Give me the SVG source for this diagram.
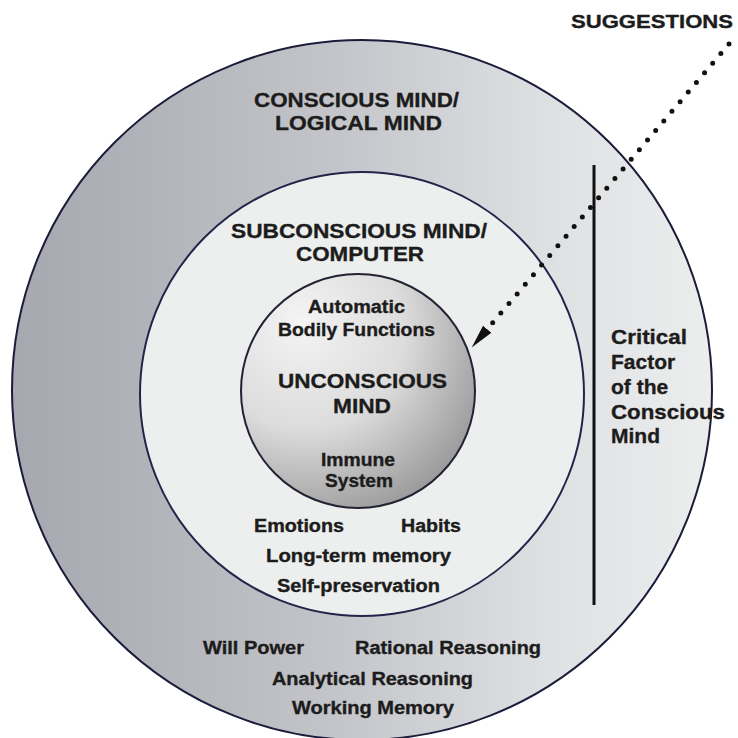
<svg xmlns="http://www.w3.org/2000/svg" width="738" height="738" viewBox="0 0 738 738">
  <style>
    text { font-family: "Liberation Sans", Arial, sans-serif; font-weight: bold; fill: #1c1c1c; stroke: #1c1c1c; stroke-width: 0.35; text-anchor: start; }
    .big { font-size: 21px; }
    .lbl { font-size: 18px; }
    .crit { font-size: 21px; }
    .sugg { font-size: 19px; }
    .ring { stroke-width: 2; }
  </style>
  <defs>
    <linearGradient id="gOuter" x1="0" y1="0" x2="1" y2="0">
      <stop offset="0" stop-color="#a6a7af"/>
      <stop offset="0.45" stop-color="#c3c4c9"/>
      <stop offset="0.78" stop-color="#e0e1e3"/>
      <stop offset="1" stop-color="#eceded"/>
    </linearGradient>
    <radialGradient id="gInner" cx="0.3" cy="0.28" r="0.85" fx="0.25" fy="0.2">
      <stop offset="0" stop-color="#f4f4f4"/>
      <stop offset="0.5" stop-color="#dcdcdc"/>
      <stop offset="1" stop-color="#929292"/>
    </radialGradient>
    <marker id="arrowHead" markerUnits="userSpaceOnUse" markerWidth="24" markerHeight="12" refX="0" refY="5" orient="auto" viewBox="0 0 22 10">
      <path d="M0,0 L22,5 L0,10 z" fill="#111"/>
    </marker>
  </defs>

  <rect x="0" y="0" width="738" height="738" fill="#ffffff"/>

  <g id="conscious-mind">
    <circle class="ring" cx="362" cy="390" r="350" fill="url(#gOuter)" stroke="#1b1b3a"/>
    <text class="big" x="254" y="107" textLength="205" lengthAdjust="spacingAndGlyphs">CONSCIOUS MIND/</text>
    <text class="big" x="275" y="130" textLength="167" lengthAdjust="spacingAndGlyphs">LOGICAL MIND</text>
    <text class="lbl" x="203" y="654" textLength="101" lengthAdjust="spacingAndGlyphs">Will Power</text>
    <text class="lbl" x="355" y="654" textLength="186" lengthAdjust="spacingAndGlyphs">Rational Reasoning</text>
    <text class="lbl" x="272" y="685" textLength="201" lengthAdjust="spacingAndGlyphs">Analytical Reasoning</text>
    <text class="lbl" x="292" y="714" textLength="162" lengthAdjust="spacingAndGlyphs">Working Memory</text>
  </g>

  <g id="subconscious-mind">
    <circle class="ring" cx="362" cy="394" r="222" fill="#edefee" stroke="#24244a"/>
    <text class="big" x="231" y="238" textLength="256" lengthAdjust="spacingAndGlyphs">SUBCONSCIOUS MIND/</text>
    <text class="big" x="296" y="261" textLength="128" lengthAdjust="spacingAndGlyphs">COMPUTER</text>
    <text class="lbl" x="254" y="532" textLength="90" lengthAdjust="spacingAndGlyphs">Emotions</text>
    <text class="lbl" x="401" y="532" textLength="60" lengthAdjust="spacingAndGlyphs">Habits</text>
    <text class="lbl" x="266" y="562" textLength="185" lengthAdjust="spacingAndGlyphs">Long-term memory</text>
    <text class="lbl" x="277" y="592" textLength="163" lengthAdjust="spacingAndGlyphs">Self-preservation</text>
  </g>

  <g id="unconscious-mind">
    <circle class="ring" cx="358" cy="391" r="117" fill="url(#gInner)" stroke="#222233"/>
    <text class="lbl" x="308" y="313" textLength="97" lengthAdjust="spacingAndGlyphs">Automatic</text>
    <text class="lbl" x="278" y="336" textLength="157" lengthAdjust="spacingAndGlyphs">Bodily Functions</text>
    <text class="big" x="278" y="388" textLength="169" lengthAdjust="spacingAndGlyphs">UNCONSCIOUS</text>
    <text class="big" x="333" y="413" textLength="58" lengthAdjust="spacingAndGlyphs">MIND</text>
    <text class="lbl" x="321" y="466" textLength="74" lengthAdjust="spacingAndGlyphs">Immune</text>
    <text class="lbl" x="325" y="487" textLength="68" lengthAdjust="spacingAndGlyphs">System</text>
  </g>

  <g id="critical-factor">
    <line x1="594" y1="165" x2="594" y2="605" stroke="#111" stroke-width="3"/>
    <text class="crit" x="611" y="344" textLength="76" lengthAdjust="spacingAndGlyphs">Critical</text>
    <text class="crit" x="611" y="369">Factor</text>
    <text class="crit" x="611" y="394">of the</text>
    <text class="crit" x="611" y="419" textLength="114" lengthAdjust="spacingAndGlyphs">Conscious</text>
    <text class="crit" x="611" y="443">Mind</text>
  </g>

  <g id="suggestions">
    <text class="sugg" x="571" y="28" textLength="162" lengthAdjust="spacingAndGlyphs">SUGGESTIONS</text>
  </g>

  <g id="connectors">
    <path d="M729,44 L487.2,329.2" fill="none" stroke="#111" stroke-width="5" stroke-linecap="round" stroke-dasharray="0 12.6" marker-end="url(#arrowHead)"/>
  </g>
</svg>
